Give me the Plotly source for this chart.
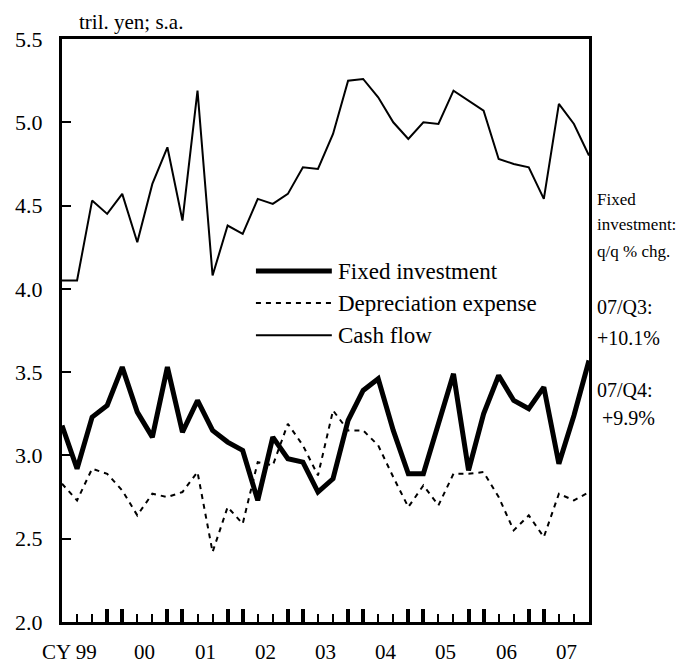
import plotly.graph_objects as go

# ---- data (quarterly, CY1999 Q1 .. CY2007 Q4) ----
years = ["99", "00", "01", "02", "03", "04", "05", "06", "07"]
quarters = [f"{y}/Q{q}" for y in years for q in range(1, 5)]

fixed_investment = [3.18, 2.92, 3.23, 3.30, 3.53, 3.26, 3.11, 3.53, 3.14, 3.33,
                    3.15, 3.08, 3.03, 2.73, 3.11, 2.98, 2.96, 2.78, 2.86, 3.21,
                    3.39, 3.46, 3.15, 2.89, 2.89, 3.19, 3.49, 2.91, 3.25, 3.48,
                    3.33, 3.28, 3.41, 2.95, 3.24, 3.57]
depreciation = [2.83, 2.73, 2.92, 2.89, 2.79, 2.64, 2.77, 2.75, 2.78, 2.90,
                2.42, 2.69, 2.59, 2.96, 2.94, 3.19, 3.06, 2.88, 3.27, 3.15,
                3.15, 3.06, 2.87, 2.69, 2.82, 2.70, 2.89, 2.89, 2.90, 2.75,
                2.55, 2.64, 2.51, 2.77, 2.73, 2.78]
cash_flow = [4.05, 4.05, 4.53, 4.45, 4.57, 4.28, 4.63, 4.85, 4.41, 5.19,
             4.08, 4.38, 4.33, 4.54, 4.51, 4.57, 4.73, 4.72, 4.93, 5.25,
             5.26, 5.15, 5.00, 4.90, 5.00, 4.99, 5.19, 5.13, 5.07, 4.78,
             4.75, 4.73, 4.54, 5.11, 4.99, 4.80]

series_names = ["Fixed investment", "Depreciation expense", "Cash flow"]
y_ticks = [2.0, 2.5, 3.0, 3.5, 4.0, 4.5, 5.0, 5.5]
side_notes = ["Fixed", "investment:", "q/q % chg."]
change_notes = ["07/Q3:", "+10.1%", "07/Q4:", "+9.9%"]

FONT = "Liberation Serif, Times New Roman, serif"
x = list(range(len(quarters)))

fig = go.Figure()
fig.add_trace(go.Scatter(x=x, y=depreciation, mode="lines", name=series_names[1],
                         line=dict(color="black", width=2, dash="5px,5px")))
fig.add_trace(go.Scatter(x=x, y=cash_flow, mode="lines", name=series_names[2],
                         line=dict(color="black", width=2)))
fig.add_trace(go.Scatter(x=x, y=fixed_investment, mode="lines", name=series_names[0],
                         line=dict(color="black", width=5)))

# year-boundary (thick) ticks: last quarter of a year and first quarter of next
thick = []
for k in range(1, len(years)):
    thick += [4 * k - 1, 4 * k]

fig.update_layout(
    width=681, height=665,
    margin=dict(l=62, r=92, t=39, b=43),
    paper_bgcolor="white", plot_bgcolor="white",
    showlegend=False,
    font=dict(family=FONT, size=22, color="black"),
    xaxis=dict(range=[0, len(quarters) - 1], showgrid=False, zeroline=False,
               showline=True, linewidth=3, linecolor="black", mirror=True,
               tickmode="array", tickvals=thick, ticks="inside", ticklen=13,
               tickwidth=4, tickcolor="black", showticklabels=False,
               minor=dict(tickmode="array", tickvals=x, ticks="inside",
                          ticklen=8, tickwidth=2, tickcolor="black")),
    yaxis=dict(range=[2.0, 5.5], showgrid=False, zeroline=False,
               showline=True, linewidth=3, linecolor="black", mirror=True,
               tickmode="array", tickvals=y_ticks, tickformat=".1f",
               ticks="inside", ticklen=9, tickwidth=2, tickcolor="black",
               ticklabelstandoff=12, tickfont=dict(size=22)),
)

ann = []
# year labels
for k, yr in enumerate(years):
    c = 4 * k + 1.5
    if k == 0:
        ann.append(dict(x=c, y=-0.052, xref="x", yref="paper", text="CY " + yr,
                        showarrow=False, xanchor="right", yanchor="middle",
                        xshift=13, borderpad=0, font=dict(size=21)))
    else:
        ann.append(dict(x=c, y=-0.052, xref="x", yref="paper", text=yr,
                        showarrow=False, xanchor="center", yanchor="middle",
                        borderpad=0, font=dict(size=21)))
# unit label
ann.append(dict(x=0.028, y=1.029, xref="paper", yref="paper", text="tril. yen; s.a.",
                showarrow=False, xanchor="left", yanchor="middle", font=dict(size=21)))
# custom legend
leg_y = [0.602, 0.547, 0.492]
leg_styles = [dict(width=5, dash="solid"), dict(width=2, dash="5px,5px"), dict(width=2, dash="solid")]
shapes = []
for name, ly, st in zip(series_names, leg_y, leg_styles):
    shapes.append(dict(type="line", xref="paper", yref="paper", x0=0.368, x1=0.512,
                       y0=ly, y1=ly, line=dict(color="black", width=st["width"], dash=st["dash"])))
    ann.append(dict(x=0.52, y=ly, xref="paper", yref="paper", text=name, showarrow=False,
                    xanchor="left", yanchor="middle", font=dict(size=23)))
# side notes
for t, yy in zip(side_notes, [0.724, 0.681, 0.635]):
    ann.append(dict(x=1.011, y=yy, xref="paper", yref="paper", text=t, showarrow=False,
                    xanchor="left", yanchor="middle", font=dict(size=17)))
for t, yy, xs in zip(change_notes, [0.540, 0.487, 0.398, 0.350], [0, 0, 0, 5]):
    ann.append(dict(x=1.011, y=yy, xref="paper", yref="paper", text=t, showarrow=False,
                    xanchor="left", yanchor="middle", xshift=xs, font=dict(size=20)))

fig.update_layout(annotations=ann, shapes=shapes)
fig.write_html("out.html", config={"displayModeBar": False},
               post_script="document.body.style.margin='0';document.body.style.padding='0';")
